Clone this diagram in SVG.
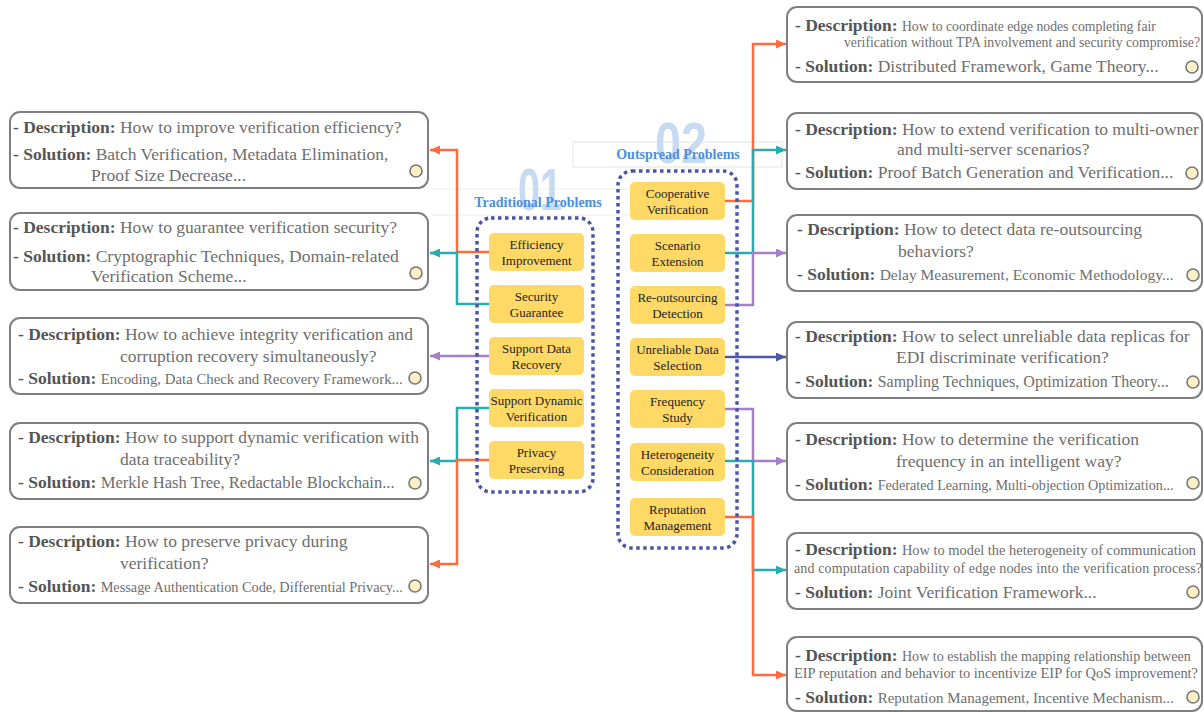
<svg xmlns="http://www.w3.org/2000/svg" width="1204" height="712" viewBox="0 0 1204 712">
<style>
.box{fill:#fff;stroke:#7f7f7f;stroke-width:2}
.t{font-family:"Liberation Serif",serif;font-size:17.5px;fill:#6e6e6e}
.b{font-weight:bold;fill:#555}
.dot{fill:#fdf0c4;stroke:#777;stroke-width:1.6}
.nd{fill:#ffd966}
.nt{font-family:"Liberation Serif",serif;font-size:13px;fill:#222;text-anchor:middle}
.grp{fill:none;stroke:#4b56a3;stroke-width:3.5;stroke-dasharray:3.5 3.5}
.c{fill:none;stroke-width:2.5}
.or{stroke:#ff6b3d}.te{stroke:#2aabb0}.pu{stroke:#a67fc4}.db{stroke:#4b58a6}
.hd{font-family:"Liberation Serif",serif;font-weight:bold;font-size:14px;fill:#4a8fe0;text-anchor:middle}
.big{font-family:"Liberation Sans",sans-serif;font-weight:bold;fill:#c6daf2;text-anchor:middle}
</style>
<defs>
<marker id="aor" markerUnits="userSpaceOnUse" markerWidth="11" markerHeight="9" refX="10" refY="4.5" orient="auto"><path d="M0,0 L10,4.5 L0,9 z" fill="#ff6b3d"/></marker>
<marker id="ate" markerUnits="userSpaceOnUse" markerWidth="11" markerHeight="9" refX="10" refY="4.5" orient="auto"><path d="M0,0 L10,4.5 L0,9 z" fill="#2aabb0"/></marker>
<marker id="apu" markerUnits="userSpaceOnUse" markerWidth="11" markerHeight="9" refX="10" refY="4.5" orient="auto"><path d="M0,0 L10,4.5 L0,9 z" fill="#a67fc4"/></marker>
<marker id="adb" markerUnits="userSpaceOnUse" markerWidth="11" markerHeight="9" refX="10" refY="4.5" orient="auto"><path d="M0,0 L10,4.5 L0,9 z" fill="#4b58a6"/></marker>
</defs>
<rect width="1204" height="712" fill="#fff"/>

<!-- headers -->
<g id="header-traditional">
<line x1="432" y1="189" x2="630" y2="189" stroke="#ececec" stroke-width="1"/>
<line x1="432" y1="215" x2="630" y2="215" stroke="#ececec" stroke-width="1"/>
<text class="big" x="540" y="210" font-size="60" textLength="44" lengthAdjust="spacingAndGlyphs">01</text>
<text class="hd" x="538" y="207">Traditional Problems</text>
</g>
<g id="header-outspread">
<rect x="573" y="142" width="209" height="25" fill="#fff" stroke="#e4e4e4" stroke-width="1"/>
<text class="big" x="681" y="163" font-size="57" textLength="52" lengthAdjust="spacingAndGlyphs">02</text>
<text class="hd" x="678" y="159">Outspread Problems</text>
</g>

<!-- connectors -->
<g id="connectors">
<path class="c or" d="M489,252 H457 V150 H430" marker-end="url(#aor)"/>
<path class="c te" d="M489,304 H457 V253 H430" marker-end="url(#ate)"/>
<path class="c pu" d="M489,356 H430" marker-end="url(#apu)"/>
<path class="c te" d="M489,408 H457 V461 H430" marker-end="url(#ate)"/>
<path class="c or" d="M489,460 H457 V564 H430" marker-end="url(#aor)"/>
<path class="c or" d="M725,201 H753 V44 H786" marker-end="url(#aor)"/>
<path class="c te" d="M725,253 H753 V150 H786" marker-end="url(#ate)"/>
<path class="c pu" d="M725,305 H753 V253 H786" marker-end="url(#apu)"/>
<path class="c db" d="M725,357 H786" marker-end="url(#adb)"/>
<path class="c pu" d="M725,409 H753 V461 H786" marker-end="url(#apu)"/>
<path class="c te" d="M725,461 H753 V570 H786" marker-end="url(#ate)"/>
<path class="c or" d="M725,517 H753 V675 H786" marker-end="url(#aor)"/>
</g>

<!-- group frames -->
<rect id="group-traditional" class="grp" x="477" y="218" width="116" height="274" rx="14"/>
<rect id="group-outspread" class="grp" x="618" y="171" width="119" height="377" rx="14"/>

<!-- traditional nodes -->
<g id="n-efficiency"><rect class="nd" x="489" y="233" width="95" height="38" rx="5"/><text class="nt" x="536.5" y="249">Efficiency<tspan x="536.5" y="265">Improvement</tspan></text></g>
<g id="n-security"><rect class="nd" x="489" y="285" width="95" height="38" rx="5"/><text class="nt" x="536.5" y="301">Security<tspan x="536.5" y="317">Guarantee</tspan></text></g>
<g id="n-recovery"><rect class="nd" x="489" y="337" width="95" height="38" rx="5"/><text class="nt" x="536.5" y="353">Support Data<tspan x="536.5" y="369">Recovery</tspan></text></g>
<g id="n-dynamic"><rect class="nd" x="489" y="389" width="95" height="38" rx="5"/><text class="nt" x="536.5" y="405">Support Dynamic<tspan x="536.5" y="421">Verification</tspan></text></g>
<g id="n-privacy"><rect class="nd" x="489" y="441" width="95" height="38" rx="5"/><text class="nt" x="536.5" y="457">Privacy<tspan x="536.5" y="473">Preserving</tspan></text></g>

<!-- outspread nodes -->
<g id="n-cooperative"><rect class="nd" x="630" y="182" width="95" height="38" rx="5"/><text class="nt" x="677.5" y="198">Cooperative<tspan x="677.5" y="214">Verification</tspan></text></g>
<g id="n-scenario"><rect class="nd" x="630" y="234" width="95" height="38" rx="5"/><text class="nt" x="677.5" y="250">Scenario<tspan x="677.5" y="266">Extension</tspan></text></g>
<g id="n-reoutsourcing"><rect class="nd" x="630" y="286" width="95" height="38" rx="5"/><text class="nt" x="677.5" y="302">Re-outsourcing<tspan x="677.5" y="318">Detection</tspan></text></g>
<g id="n-unreliable"><rect class="nd" x="630" y="338" width="95" height="38" rx="5"/><text class="nt" x="677.5" y="354">Unreliable Data<tspan x="677.5" y="370">Selection</tspan></text></g>
<g id="n-frequency"><rect class="nd" x="630" y="390" width="95" height="38" rx="5"/><text class="nt" x="677.5" y="406">Frequency<tspan x="677.5" y="422">Study</tspan></text></g>
<g id="n-heterogeneity"><rect class="nd" x="630" y="443" width="95" height="38" rx="5"/><text class="nt" x="677.5" y="459">Heterogeneity<tspan x="677.5" y="475">Consideration</tspan></text></g>
<g id="n-reputation"><rect class="nd" x="630" y="498" width="95" height="38" rx="5"/><text class="nt" x="677.5" y="514">Reputation<tspan x="677.5" y="530">Management</tspan></text></g>

<!-- left description boxes -->
<g id="d-efficiency">
<rect class="box" x="10" y="112" width="418" height="76" rx="10"/>
<text class="t" x="13" y="133"><tspan class="b">- Description:</tspan> How to improve verification efficiency?</text>
<text class="t" x="13" y="160"><tspan class="b">- Solution:</tspan> Batch Verification, Metadata Elimination,</text>
<text class="t" x="91" y="181">Proof Size Decrease...</text>
<circle class="dot" cx="416" cy="171" r="6"/>
</g>
<g id="d-security">
<rect class="box" x="10" y="213" width="418" height="77" rx="10"/>
<text class="t" x="13" y="233"><tspan class="b">- Description:</tspan> How to guarantee verification security?</text>
<text class="t" x="13" y="262"><tspan class="b">- Solution:</tspan> Cryptographic Techniques, Domain-related</text>
<text class="t" x="91" y="282">Verification Scheme...</text>
<circle class="dot" cx="416" cy="273" r="6"/>
</g>
<g id="d-recovery">
<rect class="box" x="10" y="318" width="418" height="76" rx="10"/>
<text class="t" x="18" y="340"><tspan class="b">- Description:</tspan> How to achieve integrity verification and</text>
<text class="t" x="120" y="362">corruption recovery simultaneously?</text>
<text class="t" x="18" y="384"><tspan class="b">- Solution:</tspan> <tspan style="font-size:14.8px">Encoding, Data Check and Recovery Framework...</tspan></text>
<circle class="dot" cx="415" cy="378" r="6"/>
</g>
<g id="d-dynamic">
<rect class="box" x="10" y="423" width="418" height="76" rx="10"/>
<text class="t" x="18" y="443"><tspan class="b">- Description:</tspan> How to support dynamic verification with</text>
<text class="t" x="120" y="465">data traceability?</text>
<text class="t" x="18" y="488"><tspan class="b">- Solution:</tspan> <tspan style="font-size:16.6px">Merkle Hash Tree, Redactable Blockchain...</tspan></text>
<circle class="dot" cx="415" cy="483" r="6"/>
</g>
<g id="d-privacy">
<rect class="box" x="10" y="527" width="418" height="76" rx="10"/>
<text class="t" x="18" y="547"><tspan class="b">- Description:</tspan> How to preserve privacy during</text>
<text class="t" x="120" y="569">verification?</text>
<text class="t" x="18" y="592"><tspan class="b">- Solution:</tspan> <tspan style="font-size:14.3px">Message Authentication Code, Differential Privacy...</tspan></text>
<circle class="dot" cx="415" cy="586" r="6"/>
</g>

<!-- right description boxes -->
<g id="d-cooperative">
<rect class="box" x="787" y="7" width="415" height="75" rx="10"/>
<text class="t" x="795" y="31"><tspan class="b">- Description:</tspan> <tspan style="font-size:13.7px">How to coordinate edge nodes completing fair</tspan></text>
<text class="t" x="844" y="47" style="font-size:13.7px" textLength="356" lengthAdjust="spacing">verification without TPA involvement and security compromise?</text>
<text class="t" x="795" y="72"><tspan class="b">- Solution:</tspan> Distributed Framework, Game Theory...</text>
<circle class="dot" cx="1192" cy="67" r="6"/>
</g>
<g id="d-scenario">
<rect class="box" x="787" y="113" width="415" height="76" rx="10"/>
<text class="t" x="795" y="135"><tspan class="b">- Description:</tspan> How to extend verification to multi-owner</text>
<text class="t" x="897" y="155">and multi-server scenarios?</text>
<text class="t" x="795" y="178"><tspan class="b">- Solution:</tspan> Proof Batch Generation and Verification...</text>
<circle class="dot" cx="1192" cy="173" r="6"/>
</g>
<g id="d-reoutsourcing">
<rect class="box" x="787" y="215" width="415" height="76" rx="10"/>
<text class="t" x="797" y="235"><tspan class="b">- Description:</tspan> How to detect data re-outsourcing</text>
<text class="t" x="898" y="257">behaviors?</text>
<text class="t" x="797" y="280"><tspan class="b">- Solution:</tspan> <tspan style="font-size:15.5px">Delay Measurement, Economic Methodology...</tspan></text>
<circle class="dot" cx="1193" cy="275" r="6"/>
</g>
<g id="d-unreliable">
<rect class="box" x="787" y="322" width="415" height="76" rx="10"/>
<text class="t" x="795" y="342"><tspan class="b">- Description:</tspan> How to select unreliable data replicas for</text>
<text class="t" x="896" y="363">EDI discriminate verification?</text>
<text class="t" x="795" y="387"><tspan class="b">- Solution:</tspan> <tspan style="font-size:16px">Sampling Techniques, Optimization Theory...</tspan></text>
<circle class="dot" cx="1193" cy="382" r="6"/>
</g>
<g id="d-frequency">
<rect class="box" x="787" y="423" width="415" height="77" rx="10"/>
<text class="t" x="795" y="445"><tspan class="b">- Description:</tspan> How to determine the verification</text>
<text class="t" x="896" y="467">frequency in an intelligent way?</text>
<text class="t" x="795" y="490"><tspan class="b">- Solution:</tspan> <tspan style="font-size:14.2px">Federated Learning, Multi-objection Optimization...</tspan></text>
<circle class="dot" cx="1193" cy="483" r="6"/>
</g>
<g id="d-heterogeneity">
<rect class="box" x="787" y="533" width="415" height="76" rx="10"/>
<text class="t" x="795" y="555"><tspan class="b">- Description:</tspan> <tspan style="font-size:14.4px">How to model the heterogeneity of communication</tspan></text>
<text class="t" x="794" y="573" style="font-size:14px" textLength="408" lengthAdjust="spacing">and computation capability of edge nodes into the verification process?</text>
<text class="t" x="795" y="598"><tspan class="b">- Solution:</tspan> Joint Verification Framework...</text>
<circle class="dot" cx="1193" cy="592" r="6"/>
</g>
<g id="d-reputation">
<rect class="box" x="787" y="637" width="415" height="74" rx="10"/>
<text class="t" x="795" y="661"><tspan class="b">- Description:</tspan> <tspan style="font-size:14.1px">How to establish the mapping relationship between</tspan></text>
<text class="t" x="794" y="678" style="font-size:14.4px" textLength="404" lengthAdjust="spacing">EIP reputation and behavior to incentivize EIP for QoS improvement?</text>
<text class="t" x="795" y="703"><tspan class="b">- Solution:</tspan> <tspan style="font-size:15px">Reputation Management, Incentive Mechanism...</tspan></text>
<circle class="dot" cx="1193" cy="697" r="6"/>
</g>
</svg>
